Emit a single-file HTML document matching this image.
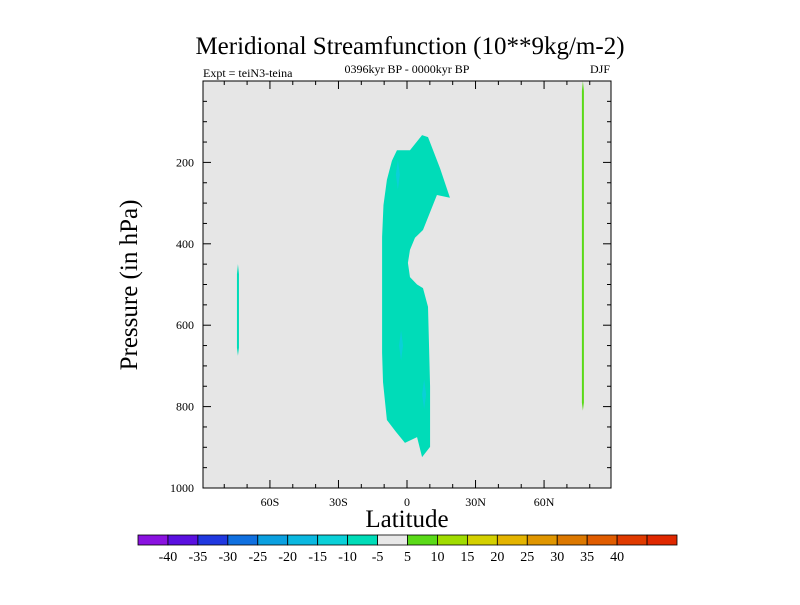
<!DOCTYPE html>
<html><head><meta charset="utf-8"><style>
body{margin:0;background:#fff;}
svg text{font-family:"Liberation Serif",serif;}
</style></head><body>
<svg id="chart" width="800" height="600" xmlns="http://www.w3.org/2000/svg">
<text x="410" y="54" font-size="25" text-anchor="middle">Meridional Streamfunction (10**9kg/m-2)</text>
<text x="407" y="73" font-size="12" text-anchor="middle">0396kyr BP - 0000kyr BP</text>
<text x="203" y="77" font-size="12">Expt = teiN3-teina</text>
<text x="610" y="73" font-size="12" text-anchor="end">DJF</text>
<rect x="203" y="81" width="408" height="407" fill="#e6e6e6"/>
<g id="marks"></g>
<g id="axes"></g>
<rect x="203" y="81" width="408" height="407" fill="none" stroke="#000" stroke-width="1"/>
<text x="407" y="527" font-size="25" text-anchor="middle">Latitude</text>
<text transform="translate(137,285) rotate(-90)" font-size="25" text-anchor="middle">Pressure (in hPa)</text>
<g id="colorbar"></g>
</svg>
<script>
const NS="http://www.w3.org/2000/svg";
// main contour region (-5..-10 band) polygon: latitude, pressure
const mainLat=[6.6,9.2,14.5,18.8,13.1,7.0,3.5,1.3,0.4,1.3,4.4,7.0,9.2,10.1,10.1,6.6,4.4,-0.9,-5.0,-8.8,-10.5,-10.9,-10.9,-10.3,-8.8,-6.6,-4.4,1.3];
const mainP=[133,138,215,287,280,366,385,415,447,482,500,509,555,750,899,924,875,889,861,833,740,668,383,305,243,196,170,170];
const mainLevel=-7.5;
// small embedded cells (-10..-15)
const cellLat=[-4,-2.6,7.5];
const cellP=[230,650,770];
const cellLevel=-12.5;
// thin strips near poles
const stripLat=[-74,77];
const stripTop=[450,0];
const stripBot=[675,810];
const stripLevel=[-7.5,7.5];
// colorbar
const levels=[-40,-35,-30,-25,-20,-15,-10,-5,5,10,15,20,25,30,35,40];
const cbColors=["#8a12e0","#5a10e0","#2038e0","#1070e0","#0aa0e0","#0ab8e0","#0ad0d8","#00dcb8","#e8e8e8","#5ada18","#a0dc00","#d4d000","#e4b400","#e09600","#dc7800","#e05c00","#e03a00","#e02800"];
const xL=203,xR=611,yT=81,yB=488,latMin=-89.3,latMax=89.3;
const xs=l=>xL+(l-latMin)/(latMax-latMin)*(xR-xL);
const ys=p=>yT+p/1000*(yB-yT);
function colorFor(v){let i=0;while(i<levels.length&&v>levels[i])i++;return cbColors[i];}
function mk(t,a,parent){const e=document.createElementNS(NS,t);for(const k in a)e.setAttribute(k,a[k]);parent.appendChild(e);return e;}
const marks=document.getElementById('marks');
let pts=mainLat.map((l,i)=>xs(l)+","+ys(mainP[i])).join(" ");
const poly=mk('polygon',{points:pts,fill:colorFor(mainLevel)},marks);


cellLat.forEach((l,i)=>{const x=xs(l),y=ys(cellP[i]);
 const c=mk('polygon',{points:`${x},${y-15} ${x+2},${y} ${x},${y+15} ${x-2},${y}`,fill:colorFor(cellLevel)},marks);
 
 });
stripLat.forEach((l,i)=>{const x=xs(l),y0=ys(stripTop[i]),y1=ys(stripBot[i]);
 const s=mk('polygon',{points:`${x},${y0} ${x+1},${y0+10} ${x+1},${y1-8} ${x},${y1} ${x-1},${y1-8} ${x-1},${y0+10}`,fill:colorFor(stripLevel[i])},marks);
 
 });
// axes
const ax=document.getElementById('axes');
const latTicks=[-60,-30,0,30,60];const latLabels=["60S","30S","0","30N","60N"];
for(let l=-80;l<=80;l+=10){const x=xs(l);const major=latTicks.includes(l);
 mk('line',{x1:x,x2:x,y1:yB,y2:yB-(major?8:4),stroke:'#000'},ax);
 mk('line',{x1:x,x2:x,y1:yT,y2:yT+(major?8:4),stroke:'#000'},ax);}
latTicks.forEach((l,i)=>{const t=mk('text',{x:xs(l),y:yB+18,'font-size':12,'text-anchor':'middle'},ax);t.textContent=latLabels[i];
 
 });
const pTicks=[200,400,600,800,1000];
for(let p=50;p<=1000;p+=50){const y=ys(p);const major=p%200==0;
 mk('line',{x1:xL,x2:xL+(major?8:4),y1:y,y2:y,stroke:'#000'},ax);
 mk('line',{x1:xR,x2:xR-(major?8:4),y1:y,y2:y,stroke:'#000'},ax);}
pTicks.forEach(p=>{const t=mk('text',{x:xL-9,y:ys(p)+4,'font-size':12,'text-anchor':'end'},ax);t.textContent=p;
 
 });
// colorbar
const cb=document.getElementById('colorbar');
const cbX=138,cbW=539,cbY=535,cbH=10,bw=cbW/cbColors.length;
cbColors.forEach((c,i)=>{const r=mk('rect',{x:cbX+i*bw,y:cbY,width:bw,height:cbH,fill:c,stroke:'#000','stroke-width':0.8},cb);
 
 });
levels.forEach((v,i)=>{const t=mk('text',{x:cbX+(i+1)*bw,y:cbY+26,'font-size':14,'text-anchor':'middle'},cb);t.textContent=v;
 
 });
</script>
</body></html>
